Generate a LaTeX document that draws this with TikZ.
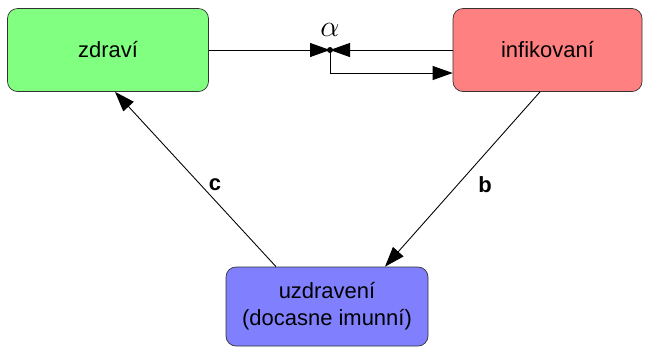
\documentclass[tikz,border=0pt]{standalone}
\usepackage{amsmath,amssymb}
\usepackage{fontspec}
\setmainfont{Liberation Sans}
\usepackage{tikz}
\usetikzlibrary{arrows.meta}

\tikzset{
  stav/.style={draw=black!80,rounded corners=0.2cm,align=center,
    font=\fontsize{12.5}{15.5}\selectfont,inner sep=0pt},
  sipka/.style={-{Triangle[length=0.4cm,width=0.28cm]},line width=0.5pt},
}

\begin{document}
\begin{tikzpicture}[scale=1.0]
  \useasboundingbox (0,0) rectangle (13,-7);
  \node[stav,fill={rgb,255:red,128;green,255;blue,128},minimum width=4.02cm,minimum height=1.66cm]
    (zdravi) at (2.16,-1.0) {zdraví};
  \node[stav,fill={rgb,255:red,255;green,128;blue,128},minimum width=3.78cm,minimum height=1.66cm]
    (infik) at (10.95,-1.0) {infikovaní};
  \node[stav,fill={rgb,255:red,128;green,128;blue,255},minimum width=4.04cm,minimum height=1.58cm]
    (uzdr) at (6.54,-6.13) {uzdravení\\(docasne imunní)};
  \coordinate (spoj) at (6.6,-1.0);
  \coordinate (ohyb) at (6.6,-1.46);
  \draw[sipka] (zdravi.east) -- (spoj);
  \draw[sipka] (infik.west) -- (spoj);
  \fill (spoj) circle (0.06);
  \node[font=\fontsize{17}{20}\selectfont] at (6.6,-0.6) {$\alpha$};
  \draw[sipka] (spoj) -- (ohyb) -- (ohyb -| infik.west);
  \draw[sipka] ([xshift=-0.15cm]infik.south) -- ([xshift=1.16cm]uzdr.north);
  \draw[sipka] ([xshift=-1.02cm]uzdr.north) -- ([xshift=0.14cm]zdravi.south);
  \node[font=\fontsize{12.5}{15}\selectfont\bfseries] at (4.3,-3.7) {c};
  \node[font=\fontsize{12.5}{15}\selectfont\bfseries] at (9.7,-3.7) {b};
\end{tikzpicture}
\end{document}
